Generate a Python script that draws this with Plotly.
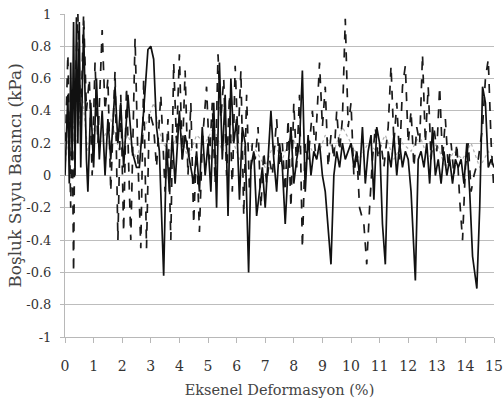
import plotly.graph_objects as go

# Axial strain (%) and pore water pressure (kPa) for three test records
solid_x = [0.0, 0.1, 0.15, 0.2, 0.25, 0.3, 0.35, 0.4, 0.45, 0.5, 0.55, 0.65, 0.75, 0.8, 0.9, 1.0, 1.1, 1.2, 1.3, 1.4,
           1.5, 1.6, 1.75, 1.85, 1.95, 2.05, 2.2, 2.35, 2.5, 2.6, 2.75, 2.9, 3.0, 3.1, 3.2, 3.3, 3.45, 3.55, 3.65, 3.75,
           3.85, 4.0, 4.1, 4.2, 4.35, 4.5, 4.6, 4.7, 4.8, 4.9, 5.0, 5.1, 5.2, 5.3, 5.4, 5.5, 5.6, 5.7, 5.8, 5.9,
           6.0, 6.1, 6.2, 6.3, 6.42, 6.5, 6.6, 6.7, 6.8, 6.9, 7.0, 7.1, 7.2, 7.3, 7.4, 7.5, 7.6, 7.7, 7.8, 7.9,
           8.0, 8.1, 8.2, 8.3, 8.4, 8.5, 8.6, 8.7, 8.8, 8.9, 9.0, 9.1, 9.2, 9.3, 9.4, 9.5, 9.6, 9.7, 9.8, 9.9,
           10.0, 10.1, 10.2, 10.3, 10.4, 10.5, 10.6, 10.7, 10.8, 10.9, 11.0, 11.1, 11.2, 11.3, 11.4, 11.5, 11.6, 11.7,
           11.8, 11.9, 12.0, 12.1, 12.25, 12.35, 12.45, 12.55, 12.65, 12.75, 12.85, 12.95, 13.05, 13.15, 13.25, 13.35,
           13.45, 13.55, 13.65, 13.75, 13.85, 13.95, 14.05, 14.15, 14.25, 14.4, 14.5, 14.6, 14.7, 14.8, 14.9, 15.0]
solid_y = [0.0, 0.5, -0.05, 0.7, 0.1, 0.95, 0.0, 0.98, 0.2, 0.95, 0.05, 0.92, 0.1, -0.1, 0.45, 0.05, 0.6, 0.1, 0.4, 0.0,
           0.35, 0.1, 0.55, 0.2, 0.45, 0.05, 0.5, 0.15, 0.05, 0.05, 0.4, 0.78, 0.8, 0.72, 0.3, 0.15, -0.62, 0.2, -0.1, 0.25,
           -0.05, 0.4, 0.1, 0.25, 0.1, -0.05, 0.15, -0.1, 0.3, 0.0, 0.2, -0.1, 0.45, -0.2, 0.7, 0.1, 0.5, -0.25, 0.6, 0.2,
           0.35, -0.15, 0.3, 0.2, -0.6, 0.05, 0.15, -0.25, -0.1, 0.05, -0.2, 0.1, 0.4, 0.1, -0.1, 0.2, 0.05, -0.3, 0.05, 0.3,
           -0.05, 0.1, 0.2, 0.65, -0.1, 0.25, 0.0, 0.15, 0.1, 0.2, 0.0, -0.1, -0.3, -0.55, 0.0, 0.15, 0.05, 0.2, 0.1, 0.15,
           0.2, 0.05, 0.15, 0.0, 0.3, -0.05, 0.15, 0.25, -0.15, 0.3, 0.2, -0.3, -0.55, 0.15, 0.05, 0.25, 0.0, 0.2,
           0.05, 0.15, 0.1, -0.1, -0.65, 0.1, 0.15, 0.05, 0.2, -0.05, 0.3, 0.0, 0.1, -0.05, 0.15, 0.0,
           0.1, -0.05, 0.1, 0.05, 0.1, -0.05, 0.2, -0.1, -0.5, -0.7, -0.2, 0.55, 0.45, 0.05, 0.1, 0.05]

dash_x = [0.0, 0.1, 0.2, 0.25, 0.3, 0.35, 0.45, 0.55, 0.65, 0.75, 0.85, 0.95, 1.05, 1.15, 1.3, 1.4, 1.5, 1.6, 1.75, 1.85,
          1.95, 2.05, 2.15, 2.3, 2.45, 2.55, 2.65, 2.75, 2.85, 2.95, 3.1, 3.2, 3.35, 3.5, 3.6, 3.7, 3.8, 3.9, 4.0, 4.1,
          4.2, 4.3, 4.4, 4.5, 4.6, 4.7, 4.8, 4.95, 5.05, 5.15, 5.25, 5.35, 5.45, 5.55, 5.65, 5.75, 5.85, 5.95, 6.05, 6.15,
          6.25, 6.35, 6.45, 6.55, 6.65, 6.75, 6.85, 6.95, 7.05, 7.15, 7.25, 7.4, 7.5, 7.6, 7.7, 7.8, 7.9, 8.0, 8.1, 8.2,
          8.3, 8.4, 8.5, 8.65, 8.75, 8.9, 9.0, 9.1, 9.2, 9.3, 9.4, 9.5, 9.6, 9.7, 9.8, 9.9, 10.0, 10.1, 10.2, 10.3,
          10.45, 10.55, 10.65, 10.75, 10.85, 10.95, 11.05, 11.15, 11.3, 11.4, 11.5, 11.6, 11.7, 11.8, 11.9, 12.0, 12.1,
          12.2, 12.3, 12.4, 12.5, 12.6, 12.7, 12.8, 12.9, 13.0, 13.1, 13.2, 13.3, 13.4, 13.5, 13.6, 13.7, 13.8, 13.9,
          14.0, 14.1, 14.2, 14.3, 14.45, 14.6, 14.7, 14.8, 14.9, 15.0]
dash_y = [0.1, 0.75, -0.2, 0.4, -0.6, 0.5, 1.0, 0.3, 1.0, 0.4, 0.6, 0.0, 0.7, 0.2, 0.9, 0.4, 0.6, -0.1, 0.65, -0.4,
          0.5, -0.35, 0.55, -0.4, 0.85, 0.1, -0.45, 0.6, -0.45, 0.4, 0.3, 0.05, 0.5, -0.1, 0.35, -0.4, 0.7, 0.2, 0.75, 0.1,
          0.65, 0.0, 0.45, -0.3, 0.2, -0.35, 0.2, 0.55, 0.1, 0.45, -0.05, 0.75, 0.35, 0.6, 0.0, 0.5, -0.1, 0.68, 0.2, 0.65,
          -0.25, 0.5, -0.1, 0.2, 0.1, 0.3, -0.2, 0.15, -0.05, 0.1, 0.0, 0.35, 0.05, 0.2, -0.1, 0.35, -0.2, 0.45, 0.05, 0.5,
          -0.45, 0.2, 0.1, 0.4, 0.15, 0.7, 0.3, 0.55, 0.05, 0.25, 0.1, 0.4, 0.15, 0.35, 0.97, 0.3, 0.45, 0.0, 0.15, -0.2,
          -0.3, -0.55, -0.2, 0.1, 0.3, 0.1, 0.2, 0.05, 0.3, 0.68, 0.2, 0.45, 0.1, 0.55, 0.68, 0.2, 0.4,
          0.05, 0.3, 0.2, 0.75, 0.2, 0.55, 0.1, 0.3, 0.15, 0.55, 0.1, 0.35, 0.05, 0.2, 0.0, 0.2, -0.15, -0.4,
          0.05, 0.2, -0.1, 0.0, 0.1, 0.3, 0.6, 0.72, 0.2, -0.1]

dot_x = [0.0, 0.2, 0.4, 0.6, 0.8, 1.0, 1.3, 1.6, 1.9, 2.2, 2.5, 2.8, 3.1, 3.4, 3.7, 4.0, 4.3, 4.6, 4.9, 5.2,
         5.5, 5.8, 6.1, 6.4, 6.7, 7.0, 7.3, 7.6, 7.9, 8.2, 8.5, 8.8, 9.1, 9.4, 9.7, 10.0, 10.3, 10.6, 10.9, 11.2,
         11.5, 11.8, 12.1, 12.4, 12.7, 13.0, 13.3, 13.6, 13.9, 14.2, 14.5, 14.8, 15.0]
dot_y = [0.05, 0.4, 0.2, 0.5, 0.15, 0.3, 0.2, 0.35, 0.15, 0.25, 0.1, 0.3, 0.45, 0.2, 0.15, 0.3, 0.1, 0.25, 0.2, 0.3,
         0.15, 0.25, 0.1, 0.2, 0.15, 0.05, 0.2, 0.1, 0.25, 0.15, 0.2, 0.1, 0.25, 0.15, 0.3, 0.2, 0.1, 0.2, 0.15, 0.25,
         0.1, 0.2, 0.15, 0.25, 0.1, 0.2, 0.05, 0.15, 0.1, 0.2, 0.05, 0.15, 0.1]

x_ticks = list(range(0, 16))
y_ticks = [-1, -0.8, -0.6, -0.4, -0.2, 0, 0.2, 0.4, 0.6, 0.8, 1]
y_labels = ["-1", "-0.8", "-0.6", "-0.4", "-0.2", "0", "0.2", "0.4", "0.6", "0.8", "1"]

FONT = "DejaVu Serif"

fig = go.Figure()
fig.add_trace(go.Scatter(x=dot_x, y=dot_y, mode="lines",
                         line=dict(color="#b0b0b0", width=1.2, dash="dot")))
fig.add_trace(go.Scatter(x=dash_x, y=dash_y, mode="lines",
                         line=dict(color="#1a1a1a", width=1.7, dash="dash")))
fig.add_trace(go.Scatter(x=solid_x, y=solid_y, mode="lines",
                         line=dict(color="#111111", width=1.7)))

fig.update_layout(
    width=504, height=406,
    margin=dict(l=65, r=10, t=14, b=69),
    paper_bgcolor="white", plot_bgcolor="white",
    showlegend=False,
    font=dict(family=FONT, size=12, color="#333333"),
)
fig.update_xaxes(
    range=[0, 15], tickvals=x_ticks, ticktext=[str(v) for v in x_ticks],
    tickfont=dict(family=FONT, size=14, color="#333333"),
    showgrid=False, zeroline=False,
    showline=True, linecolor="#b8b8b8", linewidth=1,
    ticks="outside", ticklen=5, tickcolor="#b8b8b8",
    ticklabelstandoff=11, automargin=False,
    title=dict(text="Eksenel Deformasyon (%)", font=dict(family=FONT, size=14.5, color="#444444"), standoff=12),
)
fig.update_yaxes(
    range=[-1, 1], tickvals=y_ticks, ticktext=y_labels,
    tickfont=dict(family=FONT, size=13, color="#333333"),
    showgrid=True, gridcolor="#bdbdbd", gridwidth=1,
    zeroline=False,
    showline=True, linecolor="#b8b8b8", linewidth=1,
    ticks="outside", ticklen=4, tickcolor="#b8b8b8",
    ticklabelstandoff=6, automargin=False,
    title=dict(text="Boşluk Suyu Basıncı (kPa)", font=dict(family=FONT, size=17, color="#444444"), standoff=0),
)

fig.write_html("out.html")
